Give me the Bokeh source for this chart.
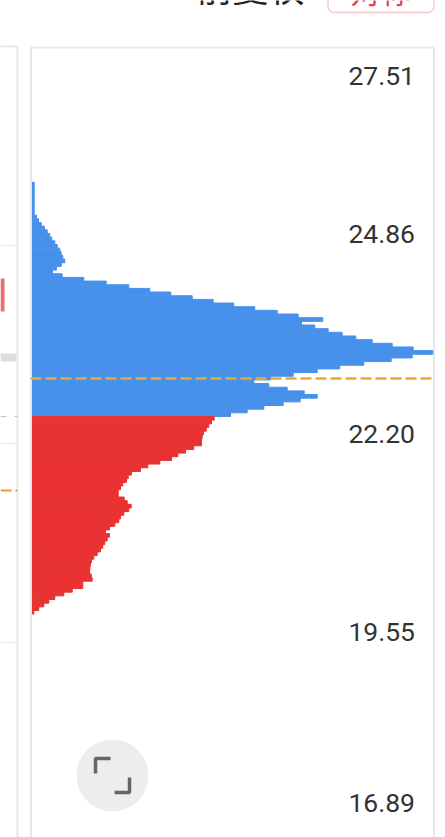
from bokeh.plotting import figure
from bokeh.models import Range1d, BoxAnnotation
from bokeh.core.properties import value
from bokeh.embed import file_html
from bokeh.resources import INLINE

# Volume-at-price profile, top row first (arbitrary volume units)
blue_volume = [1.7, 1.7, 1.7, 1.7, 1.7, 1.7, 1.7, 1.7, 1.7,
               4, 6, 8.7, 12, 14.7, 17.3, 19.3, 22.3, 24.7, 27.3, 28.7, 30.3, 32.3,
               28.7, 24, 20, 29.7, 51.3, 73.7, 96.3, 117.3, 138.3, 159.7,
               180.7, 201.3, 222.3, 244.7, 265.7, 290.3, 269, 282.3, 295.7, 309.7,
               323.3, 339.7, 359.7, 380.7, 400.3, 379.7, 358.7, 331.3, 307.3, 284.7,
               260.7, 238, 221.3, 236.3, 254.7, 271.7, 284.7, 267.7, 250.7, 231.3,
               214.7, 198]
red_volume = [181.7, 179, 176.3, 173.7, 171, 169.7, 169, 169, 161.3, 153,
              145.3, 139, 127.3, 115.3, 108, 99, 95.7, 94, 90.3, 88,
              85.7, 85.7, 91.7, 94.7, 98.7, 96.3, 91.3, 88, 86.3, 82.3,
              77, 73, 77, 74.7, 72.3, 70.3, 68, 64.7, 61.3, 59,
              58, 57.3, 57, 58.7, 59.7, 50.3, 50.3, 39.7, 31.3, 22.3,
              16.3, 11.3, 6.3, 1.3]
tick_labels = ["27.51", "24.86", "22.20", "19.55", "16.89"]
current_price = 22.934
title_text = "前复权"
tag_text = "对称"

BLUE = "#4791EB"
RED = "#E93232"
ORANGE = "#EBA830"
LINE = "#E8E8E8"

PX_PER_PRICE = 74.95
ROW = 3.66 / PX_PER_PRICE
SPLIT = 22.2 + (433 - 416) / PX_PER_PRICE


def X(px):
    return px - 32


def Y(py):
    return 22.2 + (433 - py) / PX_PER_PRICE


p = figure(width=445, height=837, output_backend="svg", toolbar_location=None,
           x_axis_location=None, y_axis_location=None, min_border=0,
           x_range=Range1d(X(0), X(445)), y_range=Range1d(Y(837), Y(0)))
p.grid.visible = False
p.outline_line_color = None
p.background_fill_color = "white"

# Panel frames
p.segment(x0=[X(30.5), X(30.5), X(433.5), X(0), X(17)],
          y0=[Y(47), Y(47), Y(47), Y(46), Y(46)],
          x1=[X(433.5), X(30.5), X(433.5), X(17), X(17)],
          y1=[Y(47), Y(837), Y(837), Y(46), Y(837)],
          line_color=LINE, line_width=2)
# Left panel remnants
p.segment(x0=[X(0)] * 3, x1=[X(16)] * 3, y0=[Y(245), Y(443), Y(642)], y1=[Y(245), Y(443), Y(642)],
          line_color="#EAEAEA", line_width=1)
p.quad(left=X(0), right=X(16), top=Y(353), bottom=Y(361), fill_color="#DEDEDE", line_color=None)
p.quad(left=X(0), right=X(4), top=Y(278), bottom=Y(311), fill_color="#F36B6B", line_color=None)
p.segment(x0=[X(0)], x1=[X(17)], y0=[Y(416)], y1=[Y(416)], line_color="#C9C4A8", line_width=1, line_dash="6 8")
p.segment(x0=[X(0)], x1=[X(17)], y0=[Y(490)], y1=[Y(490)], line_color="#EE9A3C", line_width=2.2, line_dash="11 4")

# Profile bars
n_blue = len(blue_volume)
blue_bottom = [SPLIT + ROW * (n_blue - 1 - i) for i in range(n_blue)]
p.quad(left=0, right=blue_volume, bottom=blue_bottom, top=[b + ROW for b in blue_bottom],
       fill_color=BLUE, line_color=BLUE, line_width=1)
red_top = [SPLIT - ROW * i for i in range(len(red_volume))]
p.quad(left=0, right=red_volume, top=red_top, bottom=[t - ROW for t in red_top],
       fill_color=RED, line_color=RED, line_width=1)

# Current price line
p.segment(x0=[X(30)], x1=[X(433)], y0=[current_price], y1=[current_price],
          line_color=ORANGE, line_width=2.4, line_dash="11 4")

# Price labels (the first and last are pulled inside the panel)
p.text(x=[X(414.5)] * 5, y=[float(t) for t in tick_labels], text=tick_labels,
       x_offset=0, y_offset=[40, 0, 0, 0, -28],
       text_align="right", text_baseline="middle", text_color="#333333",
       text_font=value("Roboto"), text_font_size="26.5px")

# Cut-off header
p.text(x=[X(250)], y=[Y(-15)], text=[title_text], text_align="center", text_baseline="alphabetic",
       text_color="#222222", text_font=value("Noto Sans CJK SC"), text_font_size="36px")
p.add_layout(BoxAnnotation(left=X(327.5), right=X(433.5), top=Y(-12), bottom=Y(12), fill_alpha=0,
                           line_color="#E0454F", line_width=1.5, border_radius=6))
p.text(x=[X(380)], y=[Y(-11)], text=[tag_text], text_align="center", text_baseline="alphabetic",
       text_color="#E0454F", text_font=value("Noto Sans CJK SC"), text_font_size="30px")

# Expand button
p.scatter(x=[X(112)], y=[Y(775)], size=72, marker="circle", fill_color="#EDEDED", line_color=None)
p.line(x=[X(95), X(95), X(110)], y=[Y(773), Y(758), Y(758)], line_color="#666666", line_width=3.5)
p.line(x=[X(114), X(129), X(129)], y=[Y(792), Y(792), Y(777)], line_color="#666666", line_width=3.5)

open("out.html", "w").write(file_html(p, INLINE))
